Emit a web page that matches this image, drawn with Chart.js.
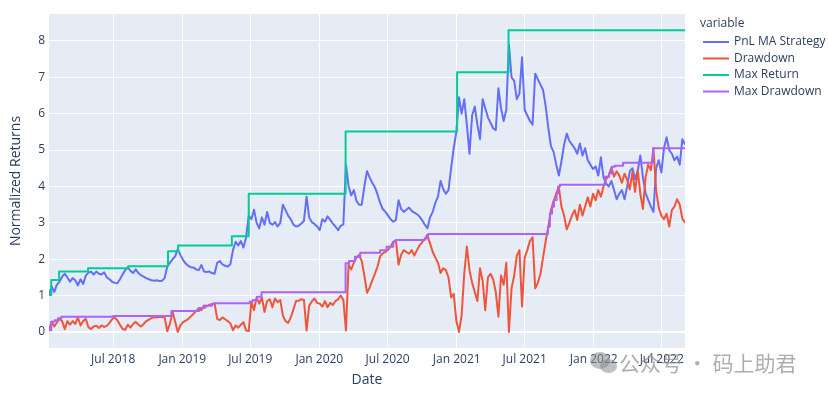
<!DOCTYPE html>
<html>
<head>
<meta charset="utf-8">
<script src="https://cdn.jsdelivr.net/npm/chart.js@4.4.0/dist/chart.umd.min.js"></script>
<style>
html,body{margin:0;padding:0;background:#fff;}
#wrap{position:relative;width:828px;height:395px;}
#mark{position:absolute;left:619px;top:347px;font-family:"Noto Sans CJK SC",sans-serif;font-size:21px;color:rgba(140,140,140,0.7);white-space:nowrap;}
.bub{position:absolute;background:rgba(140,140,140,0.55);border-radius:50%;}
</style>
</head>
<body>
<div id="wrap">
  <canvas id="chart" width="828" height="395"></canvas>
  <div class="bub" style="left:590px;top:352px;width:20px;height:17px;"></div>
  <div class="bub" style="left:600px;top:359px;width:17px;height:14px;"></div>
  <div id="mark">公众号 · 码上助君</div>
</div>
<script>
// Weekly values, first week starts 2018-01-11
const startDate='2018-01-11';
const pnl=[
  1.02,1.25,1.1,1.3,1.38, 1.52,1.6,1.5,1.38,1.48, 1.42,1.28,1.45,1.32,1.55, 1.63,1.66,1.58,1.66,1.6,
  1.58,1.64,1.5,1.45,1.38, 1.35,1.34,1.45,1.58,1.7, 1.78,1.68,1.62,1.72,1.62, 1.56,1.52,1.48,1.45,1.42,
  1.41,1.42,1.4,1.41,1.48, 1.8,1.9,2.0,2.08,2.28, 2.12,1.98,1.88,1.82,1.78, 1.77,1.72,1.7,1.84,1.66,
  1.65,1.66,1.62,1.6,1.9, 1.95,1.86,1.82,1.8,1.86, 2.25,2.48,2.38,2.5,2.32, 2.6,3.2,3.1,3.36,3.0,
  2.85,3.15,2.95,3.3,3.0, 2.95,3.02,2.9,3.0,3.5, 3.35,3.2,3.1,2.95,2.9, 2.92,2.98,3.05,3.72,3.15,
  3.02,2.97,2.9,2.8,3.1, 3.03,3.18,3.08,2.98,2.9, 2.8,2.92,2.96,4.6,4.0, 3.75,3.9,3.6,3.5,3.5,
  4.0,4.42,4.25,4.1,3.98, 3.78,3.55,3.38,3.3,3.2, 3.1,3.03,3.08,3.62,3.38, 3.3,3.36,3.42,3.33,3.28,
  3.24,3.17,3.07,2.95,2.85, 3.15,3.3,3.55,3.72,4.15, 3.93,3.8,3.9,4.5,5.05, 5.5,6.45,6.0,6.4,5.7,
  4.9,5.95,6.2,5.7,5.3, 6.4,6.15,5.9,5.75,5.6, 5.55,6.7,6.15,5.8,6.1, 7.9,7.0,6.9,6.4,6.55,
  7.55,6.1,5.95,5.8,5.7, 7.1,6.95,6.8,6.65,6.2, 5.6,5.1,4.95,4.6,4.3, 4.7,5.15,5.45,5.25,5.15,
  5.05,4.9,5.18,4.85,5.05, 4.72,4.6,4.48,4.55,4.3, 4.8,4.25,4.08,4.0,4.15, 3.9,3.65,3.8,3.9,3.65,
  4.0,4.42,4.5,4.2,4.42, 4.85,4.25,3.82,3.63,3.45, 3.3,4.5,4.72,4.38,5.05, 5.35,5.0,4.9,4.72,4.82,
  4.6,5.3,5.15
];
const drawdown=[
  0.05,0.28,0.15,0.26,0.36, 0.3,0.08,0.3,0.2,0.3, 0.22,0.4,0.18,0.3,0.36, 0.13,0.08,0.15,0.17,0.11,
  0.18,0.14,0.17,0.25,0.35, 0.4,0.32,0.2,0.08,0.06, 0.2,0.12,0.22,0.28,0.2, 0.15,0.22,0.3,0.34,0.38,
  0.41,0.4,0.42,0.41,0.4, 0.02,0.22,0.56,0.28,0.0, 0.18,0.27,0.31,0.36,0.43, 0.5,0.58,0.65,0.6,0.73,
  0.7,0.75,0.77,0.79,0.36, 0.33,0.4,0.35,0.3,0.24, 0.05,0.18,0.12,0.2,0.27, 0.04,0.03,0.82,0.6,0.95,
  0.78,0.95,0.55,0.85,0.9, 0.68,0.92,0.82,0.88,0.45, 0.3,0.25,0.4,0.62,0.85, 0.86,0.9,0.88,0.04,0.72,
  0.84,0.92,0.8,0.78,0.7, 0.85,0.68,0.8,0.74,0.85, 0.9,1.0,0.88,0.04,1.85, 1.72,1.9,2.05,2.12,1.95,
  1.55,1.08,1.22,1.42,1.6, 1.8,2.08,2.16,2.2,2.26, 2.35,2.48,2.52,1.85,2.12, 2.25,2.2,2.15,2.25,2.1,
  2.25,2.38,2.47,2.56,2.65, 2.43,2.2,2.05,1.9,1.62, 1.75,1.7,1.5,0.95,1.05, 0.3,0.0,0.45,1.6,2.35,
  1.7,1.35,1.1,0.85,1.75, 1.4,0.6,1.5,1.6,1.45, 1.1,0.42,1.55,1.3,1.9, 0.0,1.2,1.55,2.1,2.25,
  0.7,2.05,2.25,2.5,2.6, 1.2,1.35,1.6,2.05,2.5, 2.89,3.35,3.6,3.8,3.98, 3.44,3.2,2.82,3.0,3.2,
  3.35,3.08,3.5,3.2,3.45, 3.7,3.45,3.8,3.62,3.9, 3.72,4.0,4.2,4.3,4.52, 4.27,4.42,4.3,4.1,4.35,
  4.18,3.92,4.4,3.85,4.45, 3.8,3.38,4.25,4.6,4.45, 5.05,3.9,3.42,3.2,3.1, 3.25,2.9,3.35,3.45,3.65,
  3.5,3.12,3.0
];
// Running peaks, one entry per level change
const maxReturnDates=['2018-01-11','2018-01-17','2018-02-07','2018-04-25','2018-08-10','2018-11-24','2018-12-21',
  '2019-05-13','2019-06-27','2020-03-11','2021-01-02','2021-05-19','2022-09-01'];
const maxReturnValues=[1.02,1.43,1.66,1.75,1.81,2.22,2.38,2.63,3.8,5.51,7.14,8.29,8.29];
const maxDdDates=['2018-01-11','2018-01-17','2018-01-26','2018-02-04','2018-02-13','2018-07-01','2018-12-03',
  '2019-02-15','2019-03-02','2019-03-21','2019-03-29','2019-06-30','2019-07-08','2019-07-19','2019-07-31',
  '2020-03-11','2020-03-20','2020-04-05','2020-04-19','2020-06-11','2020-06-28','2020-07-16','2020-07-23',
  '2020-10-08','2020-10-13','2020-10-17','2021-09-01','2021-09-06','2021-09-12','2021-09-17','2021-09-24',
  '2021-09-28','2021-10-03','2022-01-31','2022-02-11','2022-02-18','2022-02-26','2022-03-20','2022-06-08','2022-09-01'];
const maxDdValues=[0.05,0.28,0.32,0.38,0.42,0.44,0.58,0.66,0.72,0.77,0.79,0.84,0.88,0.97,1.09,
  1.89,1.95,2.07,2.18,2.25,2.34,2.48,2.53,2.57,2.66,2.69,2.89,3.26,3.44,3.63,3.81,4.0,4.05,
  4.27,4.36,4.54,4.57,4.65,5.05,5.05];

const tickDates=['2018-07-01','2019-01-01','2019-07-01','2020-01-01','2020-07-01','2021-01-01','2021-07-01','2022-01-01','2022-07-01'];
const tickLabels=['Jul 2018','Jan 2019','Jul 2019','Jan 2020','Jul 2020','Jan 2021','Jul 2021','Jan 2022','Jul 2022'];
const yTicks=[0,1,2,3,4,5,6,7,8];

const DAY=86400000;
const t0=Date.parse(startDate);
const weekX=pnl.map((_,i)=>t0+i*7*DAY);
const textColor='#2a3f5f';

Chart.defaults.font.family='"Open Sans", sans-serif';
Chart.defaults.font.size=12;
Chart.defaults.color=textColor;

// plot background
const plotBg={
  id:'plotBg',
  beforeDraw(chart){
    const a=chart.chartArea, ctx=chart.ctx;
    ctx.save();
    ctx.fillStyle='#E5ECF6';
    ctx.fillRect(a.left,a.top,a.right-a.left,a.bottom-a.top);
    ctx.restore();
  }
};

// plotly-like legend on the right
const sideLegend={
  id:'sideLegend',
  afterDraw(chart){
    const ctx=chart.ctx;
    ctx.save();
    ctx.font='12px "Open Sans", sans-serif';
    ctx.fillStyle=textColor;
    ctx.textBaseline='middle';
    ctx.fillText('variable',700,24);
    chart.data.datasets.forEach((ds,i)=>{
      const y=42+i*16.5;
      ctx.strokeStyle=ds.borderColor;
      ctx.lineWidth=2;
      ctx.beginPath();ctx.moveTo(703,y);ctx.lineTo(729,y);ctx.stroke();
      ctx.fillStyle=textColor;
      ctx.fillText(ds.label,734,y);
    });
    ctx.restore();
  }
};

const weekly=arr=>arr.map((v,i)=>({x:weekX[i],y:v}));
const steps=(dates,vals)=>dates.map((d,i)=>({x:Date.parse(d),y:vals[i]}));

new Chart(document.getElementById('chart'),{
  type:'line',
  data:{datasets:[
    {label:'PnL MA Strategy',data:weekly(pnl),borderColor:'#636efa',order:4},
    {label:'Drawdown',data:weekly(drawdown),borderColor:'#EF553B',order:3},
    {label:'Max Return',data:steps(maxReturnDates,maxReturnValues),borderColor:'#00cc96',stepped:'before',order:2},
    {label:'Max Drawdown',data:steps(maxDdDates,maxDdValues),borderColor:'#ab63fa',stepped:'before',order:1}
  ]},
  options:{
    responsive:false,
    animation:false,
    layout:{padding:{left:0,top:14,right:143,bottom:0}},
    elements:{
      point:{radius:0,hoverRadius:0},
      line:{borderWidth:2,tension:0,fill:false,borderJoinStyle:'round'}
    },
    plugins:{legend:{display:false},tooltip:{enabled:false}},
    scales:{
      x:{
        type:'linear',
        min:Date.parse('2018-01-11'),
        max:Date.parse('2022-09-01'),
        afterBuildTicks:s=>{s.ticks=tickDates.map(d=>({value:Date.parse(d)}));},
        afterFit:s=>{s.height=47;},
        ticks:{callback:(v,i)=>tickLabels[i],autoSkip:false,maxRotation:0,padding:4},
        grid:{color:'#ffffff',drawTicks:false},
        border:{display:false},
        title:{display:true,text:'Date',font:{size:14},padding:{top:0,bottom:7}}
      },
      y:{
        min:-0.44,
        max:8.74,
        afterBuildTicks:s=>{s.ticks=yTicks.map(v=>({value:v}));},
        afterFit:s=>{s.width=49;},
        ticks:{callback:v=>v,padding:4},
        grid:{color:'#ffffff',lineWidth:c=>c.tick&&c.tick.value===0?2:1,drawTicks:false},
        border:{display:false},
        title:{display:true,text:'Normalized Returns',font:{size:14},padding:{top:8,bottom:0}}
      }
    }
  },
  plugins:[plotBg,sideLegend]
});
</script>
</body>
</html>
